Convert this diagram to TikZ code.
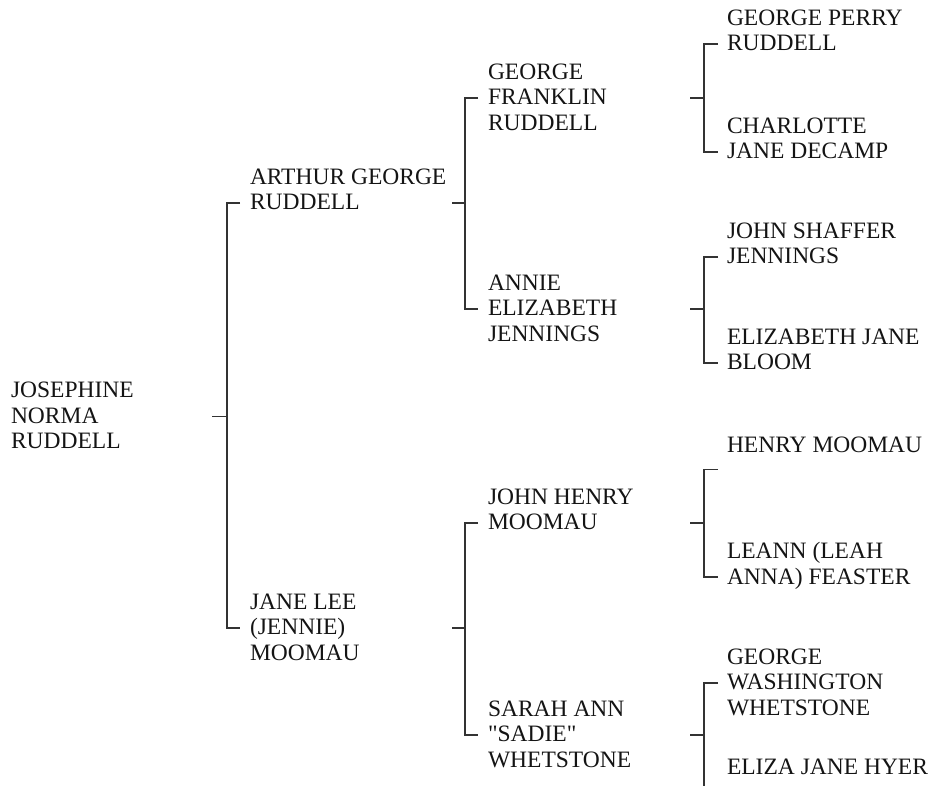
\documentclass[tikz,border=0pt]{standalone}
\usepackage{fontspec}
\setmainfont{Liberation Serif}

\begin{document}
\begin{tikzpicture}[x=1pt,y=1pt,
    person/.style={anchor=north west,align=left,inner sep=0pt,outer sep=0pt,
      font=\fontsize{23.5}{25.5}\selectfont,text=black!92,execute at begin node=\strut},
    link/.style={line width=1.3pt,draw=black!80}]
      \useasboundingbox (0,0) rectangle (931,-786);
      \clip (0,0) rectangle (931,-786);
      \node[person] (josephine) at (11,-382) {JOSEPHINE\\NORMA\\RUDDELL};
      \node[person] (arthur) at (250,-168.5) {ARTHUR GEORGE\\RUDDELL};
      \node[person] (janelee) at (250,-593.5) {JANE LEE\\(JENNIE)\\MOOMAU};
      \node[person] (georgef) at (488,-63.5) {GEORGE\\FRANKLIN\\RUDDELL};
      \node[person] (annie) at (488,-274.5) {ANNIE\\ELIZABETH\\JENNINGS};
      \node[person] (johnh) at (488,-488.5) {JOHN HENRY\\MOOMAU};
      \node[person] (sarah) at (488,-700.5) {SARAH ANN\\\textquotedbl SADIE\textquotedbl\\WHETSTONE};
      \node[person] (georgep) at (727,-9.5) {GEORGE PERRY\\RUDDELL};
      \node[person] (charlotte) at (727,-117.5) {CHARLOTTE\\JANE DECAMP};
      \node[person] (johns) at (727,-222.5) {JOHN SHAFFER\\JENNINGS};
      \node[person] (elizabeth) at (727,-328.5) {ELIZABETH JANE\\BLOOM};
      \node[person] (henry) at (727,-435) {HENRY MOOMAU};
      \node[person] (leann) at (727,-542.5) {LEANN (LEAH\\ANNA) FEASTER};
      \node[person] (georgew) at (727,-648.5) {GEORGE\\WASHINGTON\\WHETSTONE};
      \node[person] (eliza) at (727,-756.5) {ELIZA JANE HYER};
      % stubs and ticks
      \coordinate (s1) at (212,-416.5);
      \coordinate (b1) at (227,-416.5);
      \coordinate (s2a) at (452,-203);
      \coordinate (b2a) at (465,-203);
      \coordinate (s2b) at (452,-628);
      \coordinate (b2b) at (465,-628);
      \coordinate (s3a) at (690,-98);
      \coordinate (b3a) at (704,-98);
      \coordinate (s3b) at (690,-309);
      \coordinate (b3b) at (704,-309);
      \coordinate (s3c) at (690,-523);
      \coordinate (b3c) at (704,-523);
      \coordinate (s3d) at (690,-735);
      \coordinate (b3d) at (704,-735);
      \coordinate (t-arthur) at (240,-203);
      \coordinate (t-janelee) at (240,-628);
      \coordinate (t-georgef) at (478,-98);
      \coordinate (t-annie) at (478,-309);
      \coordinate (t-johnh) at (478,-523);
      \coordinate (t-sarah) at (478,-735);
      \coordinate (t-georgep) at (718,-44);
      \coordinate (t-charlotte) at (718,-152);
      \coordinate (t-johns) at (718,-257);
      \coordinate (t-elizabeth) at (718,-363);
      \coordinate (t-henry) at (718,-469.5);
      \coordinate (t-leann) at (718,-577);
      \coordinate (t-georgew) at (718,-683);
      \coordinate (t-eliza) at (718,-791);
      \draw[link] (s1) -- (b1);
      \draw[link] (t-arthur) -| (b1) |- (t-janelee);
      \draw[link] (s2a) -- (b2a);
      \draw[link] (t-georgef) -| (b2a) |- (t-annie);
      \draw[link] (s2b) -- (b2b);
      \draw[link] (t-johnh) -| (b2b) |- (t-sarah);
      \draw[link] (s3a) -- (b3a);
      \draw[link] (t-georgep) -| (b3a) |- (t-charlotte);
      \draw[link] (s3b) -- (b3b);
      \draw[link] (t-johns) -| (b3b) |- (t-elizabeth);
      \draw[link] (s3c) -- (b3c);
      \draw[link] (t-henry) -| (b3c) |- (t-leann);
      \draw[link] (s3d) -- (b3d);
      \draw[link] (t-georgew) -| (b3d) |- (t-eliza);
    \end{tikzpicture}
\end{document}
